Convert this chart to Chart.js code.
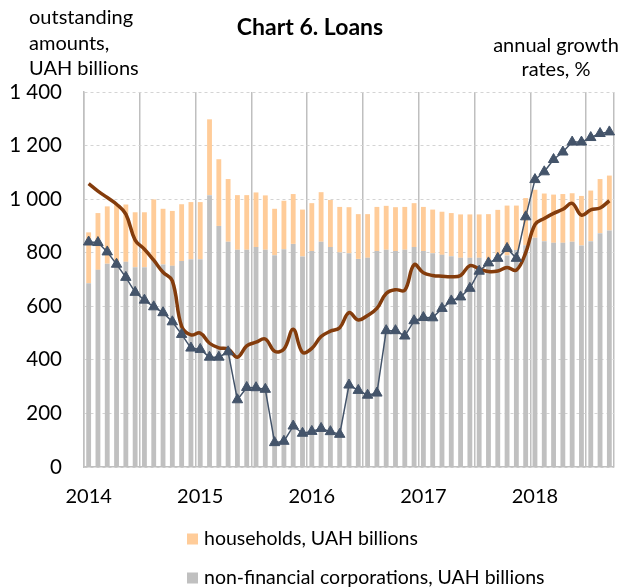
<!DOCTYPE html>
<html>
<head>
<meta charset="utf-8">
<script src="https://cdn.jsdelivr.net/npm/chart.js@4.4.0/dist/chart.umd.min.js"></script>
<style>
  html, body { margin: 0; padding: 0; background: #fff; }
</style>
</head>
<body>
<canvas id="loansChart" width="632" height="588"></canvas>
<script>
// months Jan 2014 .. Sep 2018
const years = ['2014', '2015', '2016', '2017', '2018'];
const monthLabels = [];
years.forEach(y => {
  for (let m = 1; m <= 12; m++) monthLabels.push(y + '-' + String(m).padStart(2, '0'));
});
monthLabels.length = 57;

const corporations = [
  686, 736, 759, 757, 766, 746, 746, 774, 756, 751, 769, 776,
  776, 1015, 900, 841, 811, 811, 821, 811, 791, 813, 833, 786,
  806, 841, 821, 801, 798, 777, 781, 806, 811, 806, 811, 821,
  806, 798, 792, 787, 781, 781, 781, 772, 766, 790, 810, 828,
  856, 843, 837, 837, 841, 827, 843, 873, 883
];
const households = [
  190, 212, 214, 223, 214, 205, 205, 225, 208, 205, 212, 213,
  213, 283, 249, 234, 204, 204, 204, 203, 173, 181, 186, 175,
  179, 185, 176, 170, 172, 167, 163, 165, 164, 164, 160, 164,
  165, 163, 161, 161, 162, 162, 162, 172, 194, 186, 166, 176,
  179, 178, 180, 182, 181, 185, 189, 202, 205
];
// growth lines in left-axis units
const brownLine = [
  1058, 1030, 1006, 981, 944, 847, 813, 772, 727, 695, 525, 493,
  500, 462, 445, 440, 410, 452, 466, 478, 432, 440, 514, 428,
  443, 487, 507, 520, 576, 549, 566, 592, 648, 662, 660, 755,
  725, 715, 712, 710, 715, 752, 740, 730, 732, 745, 735, 800,
  905, 928, 947, 962, 984, 940, 960, 967, 994
];
const triangleLine = [
  840, 838, 803, 757, 708, 652, 623, 598, 576, 542, 495, 444,
  439, 410, 410, 430, 251, 297, 296, 290, 91, 96, 153, 126,
  133, 144, 132, 122, 306, 286, 268, 276, 509, 509, 489, 546,
  558, 557, 592, 620, 635, 667, 731, 762, 779, 816, 779, 934,
  1073, 1102, 1148, 1176, 1213, 1213, 1230, 1245, 1251
];

const chartTitle = 'Chart 6. Loans';
const leftCaption = ['outstanding', 'amounts,', 'UAH billions'];
const rightCaption = ['annual growth', 'rates, %'];
const hhLabel = 'households, UAH billions';
const corpLabel = 'non-financial corporations, UAH billions';

const GREY = '#c0c0c0';
const ORANGE = '#ffcc99';

const captions = {
  id: 'captions',
  afterDraw(chart) {
    const ctx = chart.ctx;
    ctx.save();
    ctx.fillStyle = '#000';
    ctx.textBaseline = 'middle';
    ctx.font = '20px Lato';
    ctx.textAlign = 'left';
    leftCaption.forEach((t, i) => ctx.fillText(t, 29, 18 + i * 25.5));
    ctx.textAlign = 'center';
    rightCaption.forEach((t, i) => ctx.fillText(t, 556, 46 + i * 24));
    ctx.font = 'bold 23px Lato';
    ctx.fillText(chartTitle, 310, 28);

    // legend, households on top
    ctx.font = '19.5px Lato';
    ctx.textAlign = 'left';
    [[hhLabel, ORANGE, 539], [corpLabel, GREY, 578]].forEach(([txt, col, y]) => {
      ctx.fillStyle = col;
      ctx.fillRect(187, y - 5.5, 11, 11);
      ctx.fillStyle = '#000';
      ctx.fillText(txt, 204, y);
    });
    ctx.restore();
  }
};

new Chart(document.getElementById('loansChart'), {
  type: 'bar',
  data: {
    labels: monthLabels,
    datasets: [
      {
        type: 'line',
        label: 'growth (triangles)',
        data: triangleLine,
        borderColor: '#44546a',
        backgroundColor: '#44546a',
        borderWidth: 1.5,
        pointStyle: 'triangle',
        pointRadius: 6,
        pointBorderWidth: 1,
        stack: 'tri',
        order: 1
      },
      {
        type: 'line',
        label: 'growth (brown)',
        data: brownLine,
        borderColor: '#843c0c',
        borderWidth: 3.5,
        pointRadius: 0,
        tension: 0.4,
        stack: 'brown',
        order: 2
      },
      {
        label: corpLabel,
        data: corporations,
        backgroundColor: GREY,
        stack: 'loans',
        order: 3
      },
      {
        label: hhLabel,
        data: households,
        backgroundColor: ORANGE,
        stack: 'loans',
        order: 3
      }
    ]
  },
  options: {
    responsive: false,
    animation: false,
    layout: { padding: { top: 92, right: 18, left: 0, bottom: 0 } },
    datasets: { bar: { barPercentage: 0.52, categoryPercentage: 1 } },
    plugins: {
      legend: { display: false },
      tooltip: { enabled: false }
    },
    scales: {
      x: {
        stacked: true,
        grid: {
          offset: true,
          drawTicks: false,
          lineWidth: 1.5,
          color: c => (c.type === 'scale' || c.index % 6 === 0) ? '#bfbfbf' : 'rgba(0,0,0,0)'
        },
        border: { color: '#bfbfbf', width: 1.5 },
        ticks: {
          autoSkip: false,
          maxRotation: 0,
          padding: 18,
          color: '#000',
          font: { family: 'Lato', size: 20 },
          callback: (v, i) => monthLabels[i].endsWith('-01') ? monthLabels[i].slice(0, 4) : ''
        },
        afterFit(s) { s.height = 121; }
      },
      y: {
        stacked: true,
        min: 0,
        max: 1400,
        ticks: {
          stepSize: 200,
          padding: 22,
          color: '#000',
          font: { family: 'Lato', size: 20.5 },
          callback: v => v >= 1000 ? Math.floor(v / 1000) + ' ' + String(v % 1000).padStart(3, '0') : String(v)
        },
        grid: { color: '#d4d4d4', drawTicks: false },
        border: { display: true, color: '#bfbfbf', width: 1.5, dash: [3, 3] },
        afterFit(s) { s.width = 84; }
      }
    }
  },
  plugins: [captions]
});
</script>
</body>
</html>
